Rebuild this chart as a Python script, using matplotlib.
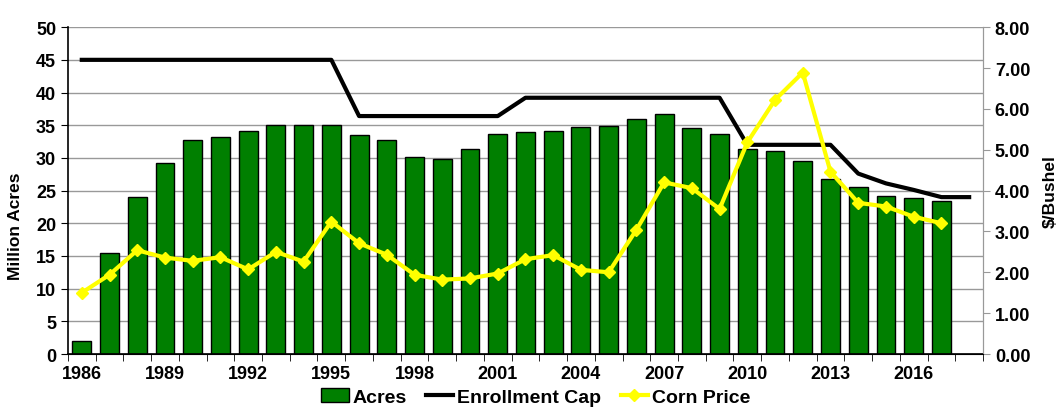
import numpy as np
import matplotlib.pyplot as plt
from matplotlib.lines import Line2D
from matplotlib.patches import Patch

plt.rcParams['font.family'] = ['Liberation Sans', 'DejaVu Sans']
plt.rcParams['font.weight'] = 'bold'

years = list(range(1986, 2019))
acres = [2.0, 15.4, 24.0, 29.2, 32.8, 33.2, 34.1, 35.1, 35.0, 35.0,
         33.5, 32.8, 30.1, 29.8, 31.4, 33.6, 34.0, 34.1, 34.7, 34.9,
         35.9, 36.7, 34.6, 33.7, 31.3, 31.1, 29.5, 26.8, 25.5, 24.2,
         23.9, 23.4]
cap = [45, 45, 45, 45, 45, 45, 45, 45, 45, 45,
       36.4, 36.4, 36.4, 36.4, 36.4, 36.4,
       39.2, 39.2, 39.2, 39.2, 39.2, 39.2, 39.2, 39.2,
       32.0, 32.0, 32.0, 32.0, 27.6, 26.1, 25.1, 24.0, 24.0]
corn = [1.50, 1.94, 2.54, 2.36, 2.28, 2.37, 2.07, 2.50, 2.26, 3.24,
        2.71, 2.43, 1.94, 1.82, 1.85, 1.97, 2.32, 2.42, 2.06, 2.00,
        3.04, 4.20, 4.06, 3.55, 5.18, 6.22, 6.89, 4.46, 3.70, 3.61,
        3.36, 3.20]

green = '#007f00'

fig = plt.figure(figsize=(10.61, 4.14), dpi=100)
ax = fig.add_axes([0.064, 0.1425, 0.8625, 0.7895])

x = np.arange(len(years))
ax.bar(x[:len(acres)], acres, width=0.68, color=green, edgecolor='black', linewidth=1, zorder=2)
ax.plot(x[:len(cap)], cap, color='black', linewidth=3, zorder=3)

ax.set_xlim(-0.5, len(years) - 0.5)
ax.set_ylim(0, 50)
ax.set_yticks(range(0, 51, 5))
ax.grid(axis='y', color='#999999', linewidth=1, zorder=0)
ax.set_axisbelow(True)
ax.set_ylabel('Million Acres', fontsize=12.5, fontweight='bold')
ax.yaxis.set_label_coords(-0.049, 0.394)

lab_idx = list(range(0, len(years), 3))
ax.set_xticks(lab_idx)
ax.set_xticklabels([str(years[i]) for i in lab_idx])
ax.set_xticks(np.arange(-0.5, len(years), 1), minor=True)
ax.tick_params(axis='x', which='major', length=0, pad=8, labelsize=13)
ax.tick_params(axis='x', which='minor', length=5, color='black')
ax.tick_params(axis='y', labelsize=13, length=5)

ax.spines['top'].set_visible(False)
ax.spines['right'].set_color('#999999')
ax.spines['left'].set_linewidth(1.2)
ax.spines['bottom'].set_linewidth(1.2)

ax2 = ax.twinx()
ax2.plot(x[:len(corn)], corn, color='#ffff00', linewidth=3, marker='D', markersize=6, zorder=4)
ax2.set_ylim(0, 8)
ax2.set_yticks(range(0, 9))
ax2.set_yticklabels([f'{v:.2f}' for v in range(0, 9)])
ax2.tick_params(axis='y', labelsize=13, length=5, color='#999999')
ax2.set_ylabel('$/Bushel', fontsize=12.5, fontweight='bold')
ax2.yaxis.set_label_coords(1.065, 0.5)
ax2.spines['top'].set_visible(False)
ax2.spines['right'].set_color('#999999')
ax2.spines['left'].set_visible(False)

handles = [Patch(facecolor=green, edgecolor='black', label='Acres'),
           Line2D([], [], color='black', linewidth=3, label='Enrollment Cap'),
           Line2D([], [], color='#ffff00', linewidth=3, marker='D', markersize=6, label='Corn Price')]
fig.legend(handles=handles, loc='lower center', bbox_to_anchor=(0.505, -0.025), ncol=3,
           frameon=False, fontsize=14, handlelength=1.4, columnspacing=1.0, handletextpad=0.2)

fig.savefig('out.png', dpi=100)
